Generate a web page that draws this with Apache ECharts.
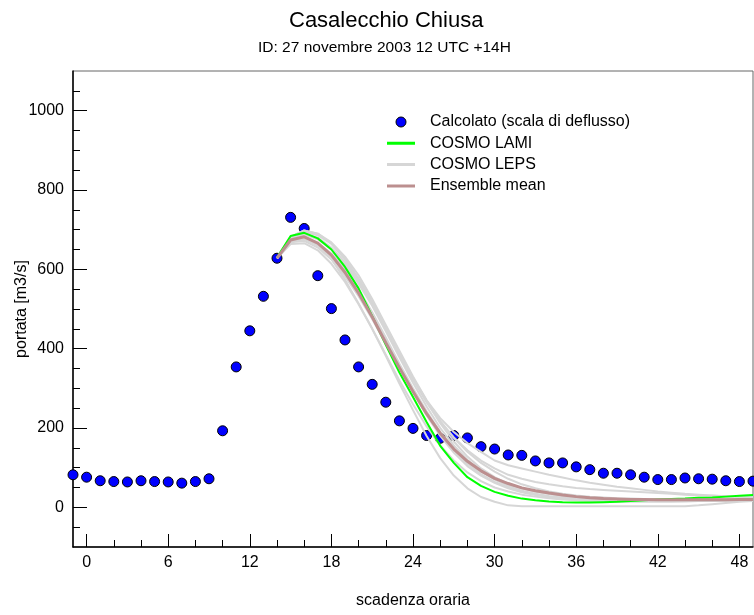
<!DOCTYPE html>
<html>
<head>
<meta charset="utf-8">
<script src="https://cdn.jsdelivr.net/npm/echarts@6/dist/echarts.min.js"></script>
<style>
  html, body { margin: 0; padding: 0; background: #fff; }
  #chart { width: 754px; height: 615px; }
</style>
</head>
<body>
<div id="chart"></div>
<script>
// Forecast lead time (hours) for the observed discharge
const obsHours = [-1,0,1,2,3,4,5,6,7,8,9,10,11,12,13,14,15,16,17,18,19,20,21,22,23,24,25,26,27,28,29,30,31,32,33,34,35,36,37,38,39,40,41,42,43,44,45,46,47,48,49];
// Calcolato (scala di deflusso), m3/s
const obsValues = [82,76,67,65,64,67,65,64,61,65,72,193,354,445,532,628,731,703,584,501,422,354,310,265,218,199,181,174,181,175,153,147,132,131,117,112,112,102,95,86,86,82,76,70,70,74,72,71,67,65,66];

// Lead times for the model runs
const modelHours = [14,15,16,17,18,19,20,21,22,23,24,25,26,27,28,29,30,31,32,33,34,35,36,37,38,39,40,41,42,43,44,45,46,47,48,49];

// COSMO LAMI
const lamiValues = [630,684,692,678,650,606,552,482,410,340,278,215,155,112,76,54,39,29,22,18,15,13,12,12,13,14,16,18,20,21,22,24,25,27,29,31];

// COSMO LEPS members
const lepsA = [628,675,684,664,626,574,514,450,382,312,245,180,124,80,48,26,14,5,3,3,3,3,3,3,3,3,3,3,3,3,3,5,8,11,14,16];
const lepsB = [628,680,694,686,664,626,575,515,450,385,325,270,225,190,162,140,118,106,98,90,82,75,68,62,57,52,48,44,40,37,34,32,30,28,27,26];
const lepsC = [628,678,690,680,655,618,570,512,450,385,322,265,216,176,144,118,98,82,72,64,58,53,49,46,44,42,40,38,36,34,32,30,29,28,27,26];
const lepsD = [628,668,672,655,625,583,532,475,412,350,290,234,186,146,114,90,72,58,48,40,34,30,26,24,22,21,20,20,20,20,20,20,20,20,21,21];
const lepsE = [628,672,680,666,640,600,550,492,428,362,300,242,190,146,110,84,64,50,40,33,28,24,21,19,18,17,17,17,17,17,17,17,17,18,18,19];
const lepsF = [628,664,666,648,614,568,512,450,385,320,260,204,156,118,88,66,50,40,32,27,23,20,18,16,15,15,15,15,15,15,16,16,16,17,17,18];
const lepsG = [628,682,698,690,665,626,576,518,455,390,326,266,212,166,128,98,76,60,48,40,34,29,26,23,21,20,19,19,19,19,19,20,20,20,21,21];
const lepsH = [628,676,688,676,650,612,564,508,444,378,314,254,200,156,120,92,70,54,42,34,28,24,21,19,18,17,17,17,17,18,18,18,19,19,20,20];
const lepsI = [628,682,698,690,668,632,585,525,460,395,330,270,218,175,140,112,90,72,58,48,40,34,30,27,25,23,22,21,21,21,21,21,22,22,22,23];
const lepsJ = [628,670,676,660,632,592,542,486,422,356,292,232,180,138,104,80,62,48,38,31,26,22,19,17,16,15,15,15,15,15,15,16,16,16,17,17];
const lepsMembers = [lepsA, lepsB, lepsC, lepsD, lepsE, lepsF, lepsG, lepsH, lepsI, lepsJ];

// Ensemble mean
const meanValues = [628,674,682,666,636,592,540,480,415,352,292,236,187,147,116,92,73,60,49,42,36,31,27,24,22,21,20,20,19,19,19,19,19,19,20,20];

// Axis ticks and labels
const xMajorTicks = [0,6,12,18,24,30,36,42,48];
const xMinorTicks = [0,2,4,6,8,10,12,14,16,18,20,22,24,26,28,30,32,34,36,38,40,42,44,46,48];
const yMajorTicks = [0,200,400,600,800,1000];
const yMinorTicks = [-50,0,50,100,150,200,250,300,350,400,450,500,550,600,650,700,750,800,850,900,950,1000,1050];

const pair = (xs, ys) => xs.map((x, i) => [x, ys[i]]);

const FONT = 'Liberation Sans, Arial, sans-serif';
// Legend line glyph: a 3px bar inside a 28x10 box
const LINE_ICON = 'path://M0,0 L0.01,0 Z M0,3.5 L28,3.5 L28,6.5 L0,6.5 Z M27.99,10 L28,10 Z';

const series = [
  {
    name: 'Calcolato (scala di deflusso)',
    type: 'scatter',
    data: pair(obsHours, obsValues),
    symbol: 'circle',
    symbolSize: 10,
    itemStyle: { color: '#0000ff', borderColor: '#000', borderWidth: 1, opacity: 1 },
    clip: false,
    z: 2
  }
];
lepsMembers.forEach(m => {
  series.push({
    name: 'COSMO LEPS',
    type: 'line',
    data: pair(modelHours, m),
    symbol: 'none',
    lineStyle: { color: '#d6d6d6', width: 2 },
    itemStyle: { color: '#d6d6d6' },
    z: 3
  });
});
series.push({
  name: 'COSMO LAMI',
  type: 'line',
  data: pair(modelHours, lamiValues),
  symbol: 'none',
  lineStyle: { color: '#00ff00', width: 2 },
  itemStyle: { color: '#00ff00' },
  z: 4
});
series.push({
  name: 'Ensemble mean',
  type: 'line',
  data: pair(modelHours, meanValues),
  symbol: 'none',
  lineStyle: { color: '#bc8f8f', width: 3 },
  itemStyle: { color: '#bc8f8f' },
  z: 5
});
// Empty carrier series so the secondary (major tick) axes are laid out
series.push({
  name: '_majorTicks',
  type: 'line',
  xAxisIndex: 1,
  yAxisIndex: 1,
  data: [],
  silent: true,
  symbol: 'none'
});

const chart = echarts.init(document.getElementById('chart'), null, { renderer: 'canvas' });
chart.setOption({
  animation: false,
  backgroundColor: '#fff',
  title: [
    { text: 'Casalecchio Chiusa', left: 289, top: 10, padding: 0,
      textStyle: { fontFamily: FONT, fontSize: 22, fontWeight: 'normal', color: '#000' } },
    { text: 'ID: 27 novembre 2003 12 UTC +14H', left: 258, top: 40, padding: 0,
      textStyle: { fontFamily: FONT, fontSize: 15.5, fontWeight: 'normal', color: '#000' } }
  ],
  legend: {
    orient: 'vertical',
    left: 387,
    top: 114,
    padding: 0,
    itemWidth: 28,
    itemHeight: 10,
    itemGap: 5.3,
    selectedMode: false,
    textStyle: { fontFamily: FONT, fontSize: 16, color: '#000', padding: [0, 0, 0, 10] },
    data: [
      { name: 'Calcolato (scala di deflusso)', icon: 'circle', itemStyle: { color: '#0000ff', borderColor: '#000', borderWidth: 1 } },
      { name: 'COSMO LAMI', icon: LINE_ICON, itemStyle: { color: '#00ff00', borderWidth: 0 } },
      { name: 'COSMO LEPS', icon: LINE_ICON, itemStyle: { color: '#d6d6d6', borderWidth: 0 } },
      { name: 'Ensemble mean', icon: LINE_ICON, itemStyle: { color: '#bc8f8f', borderWidth: 0 } }
    ]
  },
  grid: {
    left: 73, right: 1, top: 71, bottom: 68,
    outerBoundsMode: 'none',
    containLabel: false,
    show: true, borderColor: '#666', borderWidth: 1, backgroundColor: 'transparent'
  },
  xAxis: [
    {
      type: 'value', min: -1, max: 49, position: 'bottom',
      name: 'scadenza oraria', nameLocation: 'middle', nameGap: 46, nameMoveOverlap: false,
      nameTextStyle: { fontFamily: FONT, fontSize: 16, color: '#000' },
      axisLine: { show: true, onZero: false, lineStyle: { color: '#000', width: 1.5 } },
      axisTick: { show: true, inside: true, length: 7, customValues: xMinorTicks, lineStyle: { color: '#000', width: 1 } },
      axisLabel: { customValues: xMajorTicks, margin: 8, fontFamily: FONT, fontSize: 16, color: '#000' },
      splitLine: { show: false }
    },
    {
      type: 'value', min: -1, max: 49, position: 'bottom',
      axisLine: { show: true, onZero: false, lineStyle: { color: 'rgba(0,0,0,0)', width: 1 } },
      axisTick: { show: true, inside: true, length: 13, customValues: xMajorTicks, lineStyle: { color: '#000', width: 1 } },
      axisLabel: { show: true, customValues: xMajorTicks, color: 'rgba(0,0,0,0)' },
      splitLine: { show: false }
    }
  ],
  yAxis: [
    {
      type: 'value', min: -100, max: 1100, position: 'left',
      name: 'portata [m3/s]', nameLocation: 'middle', nameGap: 43, nameMoveOverlap: false,
      nameTextStyle: { fontFamily: FONT, fontSize: 16, color: '#000' },
      axisLine: { show: true, onZero: false, lineStyle: { color: '#000', width: 1.5 } },
      axisTick: { show: true, inside: true, length: 7, customValues: yMinorTicks, lineStyle: { color: '#000', width: 1 } },
      axisLabel: { customValues: yMajorTicks, margin: 9, fontFamily: FONT, fontSize: 16, color: '#000',
                   formatter: v => String(v) },
      splitLine: { show: false }
    },
    {
      type: 'value', min: -100, max: 1100, position: 'left',
      axisLine: { show: true, onZero: false, lineStyle: { color: 'rgba(0,0,0,0)', width: 1 } },
      axisTick: { show: true, inside: true, length: 14, customValues: yMajorTicks, lineStyle: { color: '#000', width: 1 } },
      axisLabel: { show: true, customValues: yMajorTicks, color: 'rgba(0,0,0,0)', formatter: v => String(v) },
      splitLine: { show: false }
    }
  ],
  series: series
});
</script>
</body>
</html>
